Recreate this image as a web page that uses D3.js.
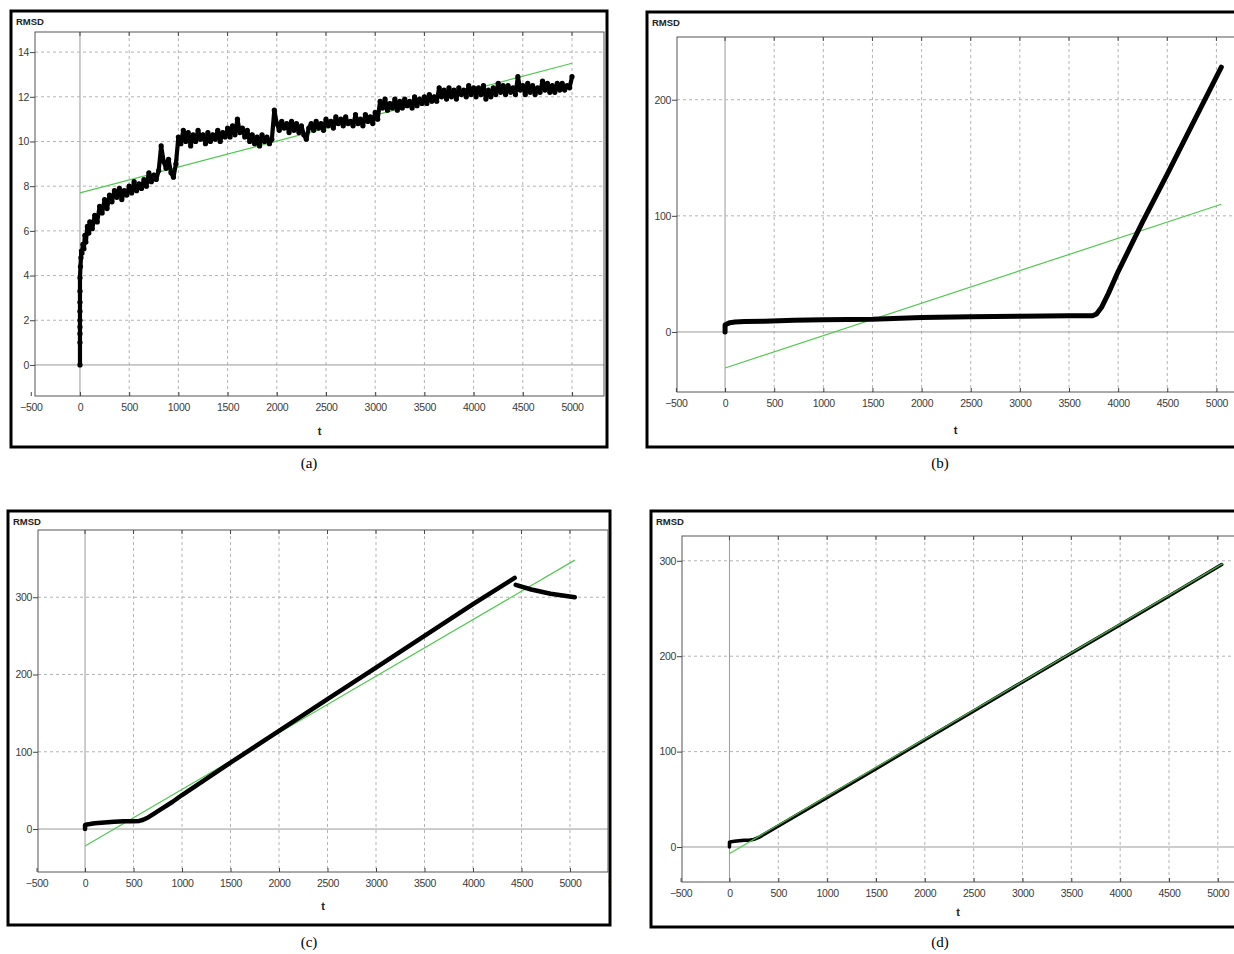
<!DOCTYPE html>
<html><head><meta charset="utf-8">
<script src="https://cdn.jsdelivr.net/npm/d3@7"></script>
<style>
html,body{margin:0;padding:0;background:#fff;}
svg{display:block;}
</style>
</head><body>
<svg id="chart" width="1234" height="954"></svg>
<script>
// ---------- DATA ----------
const captions = ["(a)", "(b)", "(c)", "(d)"];
const xTicks = [-500, 0, 500, 1000, 1500, 2000, 2500, 3000, 3500, 4000, 4500, 5000, 5500];
const xTicksRight = [-500, 0, 500, 1000, 1500, 2000, 2500, 3000, 3500, 4000, 4500, 5000];
const yTicksA = [0, 2, 4, 6, 8, 10, 12, 14];
const yTicksB = [0, 100, 200];
const yTicksC = [0, 100, 200, 300];
const yTicksD = [0, 100, 200, 300];

// (a) RMSD, black series
const tA = [0,0,0,0,0,0,0,0,0,5,10,15,20,30,40,50,60,75,90,100,125,150,175,200,225,250,275,
  300,325,350,375,400,425,450,475,
  500,525,550,575,600,625,650,675,700,725,750,775,800,825,850,875,900,925,950,975,
  1000,1025,1050,1075,1100,1125,1150,1175,1200,1225,1250,1275,1300,1325,1350,1375,1400,1425,1450,1475,
  1500,1525,1550,1575,1600,1625,1650,1675,1700,1725,1750,1775,1800,1825,1850,1875,1900,1925,1950,1975,
  2000,2025,2050,2075,2100,2125,2150,2175,2200,2225,2250,2275,2300,2325,2350,2375,2400,2425,2450,2475,
  2500,2525,2550,2575,2600,2625,2650,2675,2700,2725,2750,2775,2800,2825,2850,2875,2900,2925,2950,2975,
  3000,3025,3050,3075,3100,3125,3150,3175,3200,3225,3250,3275,3300,3325,3350,3375,3400,3425,3450,3475,
  3500,3525,3550,3575,3600,3625,3650,3675,3700,3725,3750,3775,3800,3825,3850,3875,3900,3925,3950,3975,
  4000,4025,4050,4075,4100,4125,4150,4175,4200,4225,4250,4275,4300,4325,4350,4375,4400,4425,4450,4475,
  4500,4525,4550,4575,4600,4625,4650,4675,4700,4725,4750,4775,4800,4825,4850,4875,4900,4925,4950,4975,
  5000];
const rA = [0,1.0,1.4,1.7,2.0,2.4,2.8,3.3,3.9,4.4,4.8,5.1,5.0,5.4,5.2,5.8,5.5,6.2,5.9,6.4,6.1,6.7,6.4,7.1,6.8,7.4,7.0,
  7.6,7.3,7.8,7.5,7.9,7.4,7.8,7.6,
  8.0,7.7,8.2,7.8,8.1,7.9,8.3,8.0,8.6,8.2,8.5,8.3,8.7,9.8,9.1,8.8,9.2,8.6,8.4,9.0,
  10.2,9.9,10.5,10.0,10.4,9.8,10.3,10.0,10.5,10.1,10.3,9.9,10.4,10.0,10.3,10.1,10.5,10.0,10.4,10.2,
  10.6,10.2,10.7,10.3,11.0,10.4,10.6,10.2,10.5,10.0,10.3,9.9,10.2,9.8,10.3,10.0,10.2,9.9,10.1,11.4,
  10.8,10.5,10.9,10.6,10.8,10.4,10.9,10.5,10.8,10.4,10.7,10.3,10.1,10.6,10.8,10.5,10.9,10.6,10.8,10.5,
  11.0,10.7,10.9,10.6,11.1,10.8,11.0,10.7,11.1,10.8,10.9,10.7,11.2,10.8,11.0,10.7,11.2,10.9,11.1,10.8,
  11.3,11.0,11.8,11.5,11.9,11.4,11.7,11.5,11.9,11.4,11.8,11.5,11.9,11.6,11.8,11.5,12.0,11.6,11.9,11.7,
  12.0,11.7,12.1,11.8,12.0,11.8,12.4,12.0,12.3,11.9,12.4,12.0,12.3,11.9,12.4,12.1,12.3,12.0,12.5,12.1,
  12.4,12.0,12.4,12.1,12.5,11.9,12.3,12.0,12.4,12.1,12.6,12.2,12.5,12.1,12.5,12.2,12.4,12.1,12.9,12.3,
  12.5,12.1,12.6,12.2,12.5,12.1,12.4,12.2,12.7,12.3,12.6,12.2,12.5,12.2,12.6,12.3,12.6,12.3,12.5,12.4,
  12.9];
const gTA = [0, 5000];
const gRA = [7.7, 13.5];

// (b)
const tB = [0,0,0,20,50,100,200,400,700,1000,1500,2000,2500,3000,3500,3740,3780,3830,3900,4000,4250,4500,4750,5050];
const rB = [0,3,6,7,8,8.5,9,9.3,10,10.5,11,12.5,13,13.5,14,14,15.5,21,33,52,95,136,178,228];
const gTB = [0, 5050];
const gRB = [-31, 110];

// (c)
const tC1 = [0,0,0,20,50,100,200,300,400,500,560,600,650,700,800,900,1000,1250,1500,2000,2500,3000,3500,4000,4430];
const rC1 = [0,3,5,6,6.5,7.5,8.5,9.5,10,10,10.5,12,15,19,27,35,44,65,86,127,168,209,250,291,325];
const tC2 = [4440,4600,4800,5050];
const rC2 = [316,310,304.5,300];
const gTC = [0, 5050];
const gRC = [-22, 348];

// (d)
const tD = [0,0,0,20,50,100,150,200,250,300,400,500,1000,1500,2000,2500,3000,3500,4000,4500,5040];
const rD = [0,3,5,5.5,6,6.5,7,7,8,10,16,22,52,82,112.5,142.5,173,203,233,263,296];
const gTD = [0, 5050];
const gRD = [-7, 297];

// ---------- LAYOUT ----------
const panels = [
  {frame:[11,11,607,447], plot:[35,32,604,396], xDom:[-457,5325], yDom:[-1.39,14.9], yTicks:yTicksA, xt:xTicks,
   series:[[tA,rA]], green:[gTA,gRA], dots:true, lw:4.2, cap:[309,468], tY:431},
  {frame:[647,12,1240,447], plot:[677,37,1240,392], xDom:[-489,5240], yDom:[-51.7,254], yTicks:yTicksB, xt:xTicksRight,
   series:[[tB,rB]], green:[gTB,gRB], dots:false, lw:5, cap:[940,468], tY:430},
  {frame:[8,511,610,925], plot:[38,530,608,872], xDom:[-485,5392], yDom:[-55.6,387], yTicks:yTicksC, xt:xTicks,
   series:[[tC1,rC1],[tC2,rC2]], green:[gTC,gRC], dots:false, lw:4.5, cap:[309,947], tY:906},
  {frame:[651,511,1240,927], plot:[682,536,1240,882], xDom:[-486,5227], yDom:[-36.7,326], yTicks:yTicksD, xt:xTicksRight,
   series:[[tD,rD]], green:[gTD,gRD], dots:false, lw:3.5, greenTop:true, cap:[940,947], tY:912}
];

const svg = d3.select("#chart");
const defs = svg.append("defs");

panels.forEach((p, i) => {
  const [fx0, fy0, fx1, fy1] = p.frame;
  const [px0, py0, px1, py1] = p.plot;
  const x = d3.scaleLinear().domain(p.xDom).range([px0, px1]);
  const y = d3.scaleLinear().domain(p.yDom).range([py1, py0]);

  defs.append("clipPath").attr("id", "fc" + i).append("rect")
    .attr("x", fx0 + 1.5).attr("y", fy0 + 1.5).attr("width", fx1 - fx0 - 3).attr("height", fy1 - fy0 - 3);
  defs.append("clipPath").attr("id", "pc" + i).append("rect")
    .attr("x", px0).attr("y", py0).attr("width", px1 - px0).attr("height", py1 - py0);

  const g = svg.append("g");
  g.append("rect").attr("x", fx0).attr("y", fy0).attr("width", fx1 - fx0).attr("height", fy1 - fy0)
    .attr("fill", "#fff").attr("stroke", "none");

  const inner = g.append("g").attr("clip-path", `url(#fc${i})`);

  inner.append("text").attr("x", fx0 + 5).attr("y", fy0 + 14)
    .attr("font-family", "Liberation Sans, Arial, sans-serif").attr("font-size", 9.5)
    .attr("font-weight", "bold").attr("fill", "#222").text("RMSD");

  const pg = inner.append("g").attr("clip-path", `url(#pc${i})`);
  // grid
  p.xt.forEach(v => {
    pg.append("line").attr("x1", x(v)).attr("x2", x(v)).attr("y1", py0).attr("y2", py1)
      .attr("stroke", v === 0 ? "#9a9a9a" : "#b4b4b4").attr("stroke-width", 1)
      .attr("stroke-dasharray", v === 0 ? null : "3,3");
  });
  p.yTicks.forEach(v => {
    pg.append("line").attr("x1", px0).attr("x2", px1).attr("y1", y(v)).attr("y2", y(v))
      .attr("stroke", v === 0 ? "#9a9a9a" : "#b4b4b4").attr("stroke-width", 1)
      .attr("stroke-dasharray", v === 0 ? null : "3,3");
  });
  // top tick marks
  p.xt.forEach(v => {
    pg.append("line").attr("x1", x(v)).attr("x2", x(v)).attr("y1", py0).attr("y2", py0 + 4)
      .attr("stroke", "#444").attr("stroke-width", 1);
  });

  const line = d3.line().x(d => x(d[0])).y(d => y(d[1]));
  const greenPts = p.green[0].map((t, k) => [t, p.green[1][k]]);
  const drawGreen = () => pg.append("path").attr("d", line(greenPts)).attr("fill", "none")
      .attr("stroke", "#4fc94f").attr("stroke-width", p.greenTop ? 1.4 : 1.2)
      .attr("stroke-opacity", p.greenTop ? 0.85 : 1);
  if (!p.greenTop) drawGreen();
  p.series.forEach(([ts, rs]) => {
    const pts = ts.map((t, k) => [t, rs[k]]);
    pg.append("path").attr("d", line(pts)).attr("fill", "none").attr("stroke", "#000")
      .attr("stroke-width", p.lw).attr("stroke-linejoin", "round").attr("stroke-linecap", "round");
    if (p.dots) {
      pg.selectAll(null).data(pts).enter().append("circle")
        .attr("cx", d => x(d[0])).attr("cy", d => y(d[1])).attr("r", 2.6).attr("fill", "#000");
    }
  });
  if (p.greenTop) drawGreen();

  // plot border
  inner.append("rect").attr("x", px0).attr("y", py0).attr("width", px1 - px0).attr("height", py1 - py0)
    .attr("fill", "none").attr("stroke", "#555").attr("stroke-width", 1);

  // axes
  const xa = inner.append("g").attr("transform", `translate(0,${py1})`)
    .call(d3.axisBottom(x).tickValues(p.xt).tickSizeInner(-4).tickSizeOuter(0).tickPadding(8)
      .tickFormat(d3.format("d")));
  const ya = inner.append("g").attr("transform", `translate(${px0},0)`)
    .call(d3.axisLeft(y).tickValues(p.yTicks).tickSizeInner(5).tickSizeOuter(0).tickPadding(1)
      .tickFormat(d3.format("d")));
  [xa, ya].forEach(a => {
    a.select(".domain").remove();
    a.selectAll(".tick line").attr("stroke", "#444");
    a.selectAll("text").attr("font-family", "Liberation Sans, Arial, sans-serif")
      .attr("font-size", 10.5).attr("fill", "#3a3a3a").attr("letter-spacing", "-0.3");
  });

  inner.append("text").attr("x", (px0 + Math.min(px1, 1234)) / 2).attr("y", p.tY + 4)
    .attr("text-anchor", "middle").attr("font-family", "Liberation Sans, Arial, sans-serif")
    .attr("font-size", 11).attr("font-weight", "bold").attr("fill", "#222").text("t");

  // frame border
  g.append("rect").attr("x", fx0).attr("y", fy0).attr("width", fx1 - fx0).attr("height", fy1 - fy0)
    .attr("fill", "none").attr("stroke", "#000").attr("stroke-width", 3);

  svg.append("text").attr("x", p.cap[0]).attr("y", p.cap[1]).attr("text-anchor", "middle")
    .attr("font-family", "Liberation Serif, Times New Roman, serif").attr("font-size", 15)
    .attr("fill", "#000").text(captions[i]);
});
</script>
</body></html>
